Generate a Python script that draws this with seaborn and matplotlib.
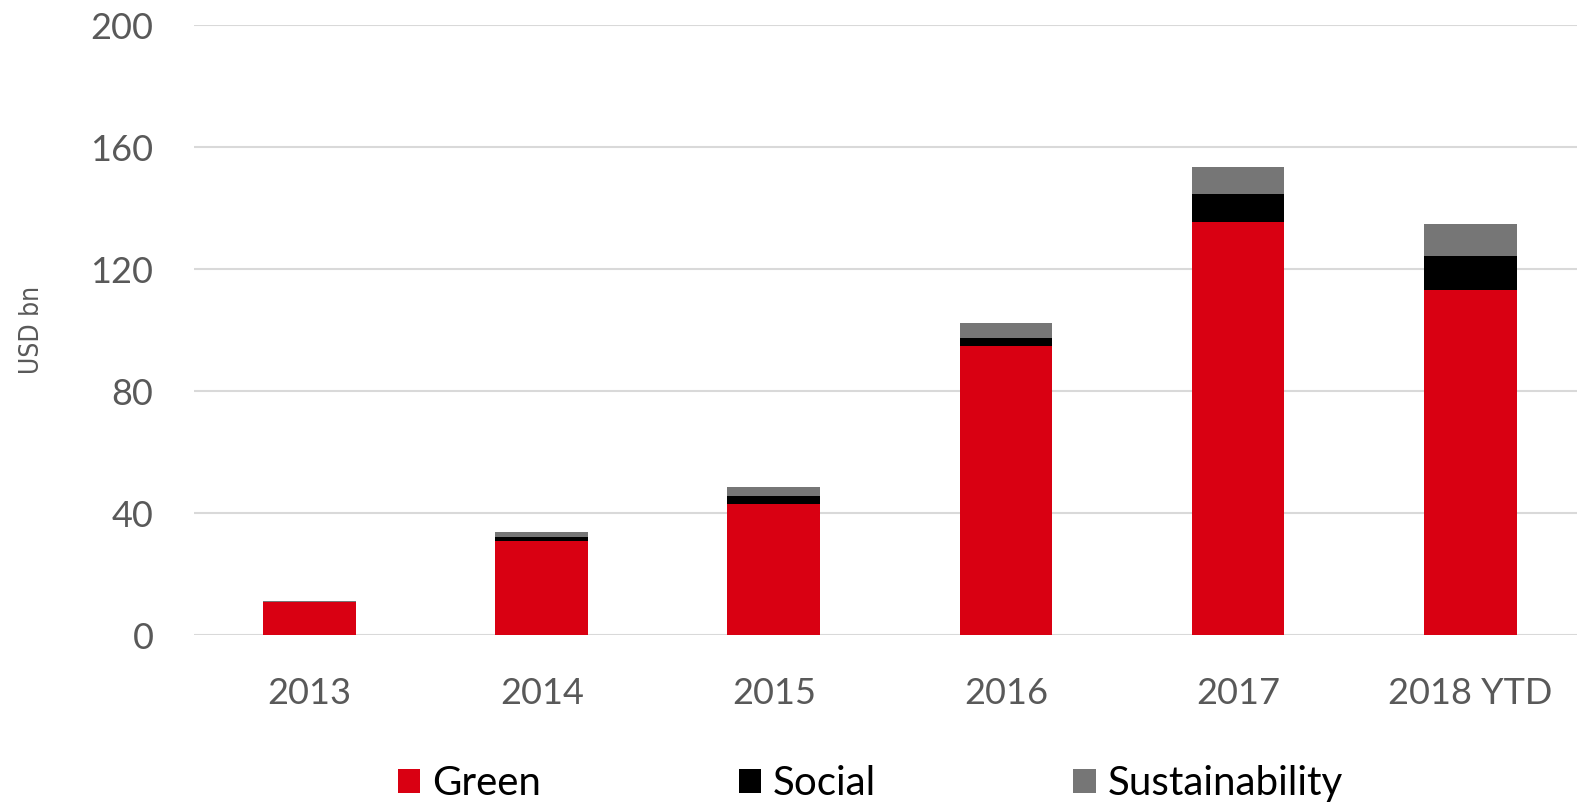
import numpy as np
import pandas as pd
import seaborn as sns
import matplotlib.pyplot as plt
from matplotlib.patches import Patch

''' DATA READ FROM THE CHART
'''
years = ['2013', '2014', '2015', '2016', '2017', '2018 YTD']
green = [11.0, 31.1, 43.1, 94.8, 135.5, 113.1]
social = [0.0, 1.1, 2.6, 2.6, 9.1, 11.2]
sustainability = [0.3, 1.6, 3.0, 4.9, 8.9, 10.6]

colors = {'Green': '#d90012', 'Social': '#000000', 'Sustainability': '#767676'}

df = pd.DataFrame({'Year': years, 'Green': green, 'Social': social,
                   'Sustainability': sustainability})

''' PLOT STACKED BARS
'''
sns.set_style('white')
plt.rcParams['font.family'] = ['Lato', 'DejaVu Sans']

fig = plt.figure(figsize=(15.77, 8.08), dpi=100)
ax = fig.add_axes([0.1228, 0.2135, 0.883, 0.7555])

bottom = np.zeros(len(years))
for name in ['Green', 'Social', 'Sustainability']:
    sns.barplot(data=df, x='Year', y=name, color=colors[name], width=0.4,
                bottom=bottom, ax=ax, saturation=1, edgecolor='none', zorder=3)
    bottom = bottom + df[name].values

ax.set_ylim(0, 200)
ax.set_yticks([0, 40, 80, 120, 160, 200])
ax.yaxis.grid(True, color='#d9d9d9', linewidth=1.5, zorder=0)
ax.set_axisbelow(True)
for s in ax.spines.values():
    s.set_visible(False)
ax.tick_params(axis='both', length=0, labelsize=26, labelcolor='#595959')
ax.tick_params(axis='y', pad=29)
ax.tick_params(axis='x', pad=30)
ax.set_xlabel('')
ax.set_ylabel('USD bn', fontsize=19, color='#595959', fontstretch='condensed',
              family=['Liberation Sans Narrow', 'DejaVu Sans'])
ax.yaxis.set_label_coords(-0.107, 0.5)

handles = [Patch(facecolor=colors[n], edgecolor='none', label=n) for n in colors]
fig.legend(handles=handles, loc='center', bbox_to_anchor=(0.552, 0.03), ncol=3,
           frameon=False, fontsize=29, labelcolor='#000000', handlelength=0.55,
           handleheight=0.55, handletextpad=0.3, columnspacing=4.9)

plt.savefig('out.png', dpi=100)
